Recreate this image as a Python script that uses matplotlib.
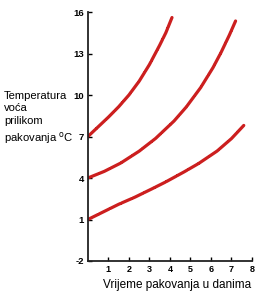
import matplotlib
matplotlib.use('Agg')
import matplotlib.pyplot as plt

# Curves (days, temperature in C)
days_top = [0, 0.5, 1.0, 1.5, 2.0, 2.5, 3.0, 3.5, 3.8, 4.1]
temp_top = [7.0, 7.7, 8.4, 9.15, 10.0, 11.0, 12.2, 13.6, 14.5, 15.6]

days_mid = [0, 0.8, 1.6, 2.5, 3.3, 4.2, 4.8, 5.5, 6.1, 6.5, 6.9, 7.2]
temp_mid = [4.0, 4.48, 5.08, 5.94, 6.86, 8.12, 9.14, 10.54, 11.98, 13.1, 14.34, 15.35]

days_low = [0, 0.75, 1.5, 2.3, 3.1, 3.8, 4.7, 5.4, 6.3, 7.0, 7.6]
temp_low = [1.0, 1.55, 2.1, 2.62, 3.2, 3.72, 4.45, 5.05, 5.95, 6.85, 7.8]

x_ticks = [1, 2, 3, 4, 5, 6, 7, 8]
y_ticks = [-2, 1, 4, 7, 10, 13, 16]

plt.rcParams['font.family'] = ['Liberation Sans', 'DejaVu Sans']

fig = plt.figure(figsize=(2.73, 3.0), dpi=100)
ax = fig.add_axes([0.322, 0.13, 0.601, 0.83])

red = '#cc1f1f'
for xs, ys in [(days_top, temp_top), (days_mid, temp_mid), (days_low, temp_low)]:
    ax.plot(xs, ys, color=red, linewidth=2.3, dashes=(3.5, 0.4),
            solid_joinstyle='round', dash_joinstyle='round', dash_capstyle='round')

ax.set_xlim(0, 8)
ax.set_ylim(-2, 16)
ax.set_xticks(x_ticks)
ax.set_yticks(y_ticks)
ax.set_xticklabels([str(v) for v in x_ticks], fontsize=6.5, fontweight='bold')
ax.set_yticklabels([str(v) for v in y_ticks], fontsize=6.8, fontweight='bold')
ax.tick_params(axis='x', direction='in', length=3, width=1, pad=3)
ax.tick_params(axis='y', direction='in', length=3, width=1, pad=3)

for side in ['top', 'right']:
    ax.spines[side].set_visible(False)
for side in ['left', 'bottom']:
    ax.spines[side].set_linewidth(1.3)
    ax.spines[side].set_color('#222222')

fig.text(0.648, 0.05, 'Vrijeme pakovanja u danima', fontsize=8.5,
         ha='center', va='center')

fig.text(0.015, 0.698, 'Temperatura\nvoća\nprilikom\npakovanja $^{\\mathrm{o}}$C',
         fontsize=8.1, ha='left', va='top', linespacing=1.36)

fig.savefig('out.png', dpi=100)
